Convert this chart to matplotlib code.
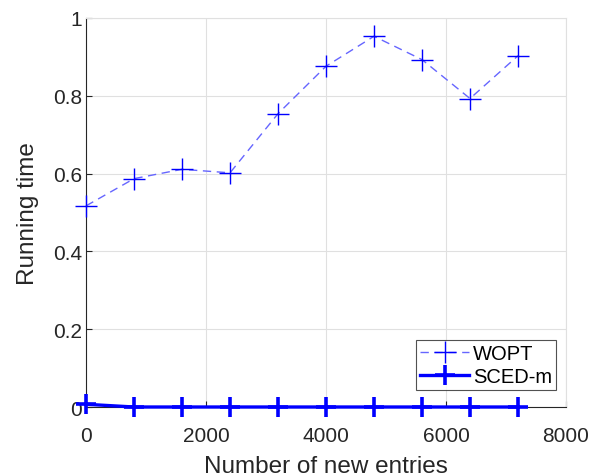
import matplotlib
matplotlib.use("Agg")
import matplotlib.pyplot as plt

x_entries = [0, 800, 1600, 2400, 3200, 4000, 4800, 5600, 6400, 7200]
wopt = [0.517, 0.587, 0.611, 0.602, 0.754, 0.876, 0.953, 0.893, 0.793, 0.903]
sced_m = [0.007, 0.0, 0.0, 0.0, 0.0, 0.0, 0.0, 0.0, 0.0, 0.0]
xticks = [0, 2000, 4000, 6000, 8000]
yticks = [0, 0.2, 0.4, 0.6, 0.8, 1]
ytick_labels = ["0", "0.2", "0.4", "0.6", "0.8", "1"]

plt.rcParams['font.family'] = ['Liberation Sans', 'DejaVu Sans']

fig = plt.figure(figsize=(6.01, 4.77), dpi=100)
ax = fig.add_axes([86/601, 1-408/477, 480/601, 389/477])

ax.plot(x_entries, wopt, color=(0.4, 0.4, 1.0), linestyle=(0, (6, 4)), lw=1.0,
        marker='+', markersize=16, markeredgewidth=1.0, markeredgecolor='#0000ff',
        label='WOPT', clip_on=False, zorder=3)
ax.plot(x_entries, sced_m, color='#0000ff', linestyle='-', lw=2.4,
        marker='+', markersize=14, markeredgewidth=2.6,
        label='SCED-m', clip_on=False, zorder=4)

ax.set_xlim(0, 8000)
ax.set_ylim(0, 1)
ax.set_xticks(xticks)
ax.set_yticks(yticks)
ax.set_yticklabels(ytick_labels)
ax.grid(True, color='#e0e0e0', lw=0.8)
ax.set_axisbelow(True)
ax.tick_params(direction='in', labelsize=15, colors='#262626', length=4, width=0.8)
ax.tick_params(axis='x', pad=14)
ax.tick_params(axis='y', pad=3)
for side in ['left', 'bottom']:
    ax.spines[side].set_color('#262626')
    ax.spines[side].set_linewidth(0.8)
for side in ['top', 'right']:
    ax.spines[side].set_color('#e0e0e0')
    ax.spines[side].set_linewidth(0.8)

ax.set_xlabel('Number of new entries', fontsize=17.5, color='#262626', labelpad=7)
ax.set_ylabel('Running time', fontsize=17.5, color='#262626', labelpad=10)

leg = ax.legend(loc='lower right', bbox_to_anchor=(556/601, 1-391/477), bbox_transform=fig.transFigure,
                fontsize=14.5, frameon=True, fancybox=False, edgecolor='#262626',
                handlelength=2.4, handletextpad=0.2, borderpad=0.2, labelspacing=0.2,
                borderaxespad=0)
leg.get_frame().set_linewidth(0.8)

fig.savefig('out.png', dpi=100)
